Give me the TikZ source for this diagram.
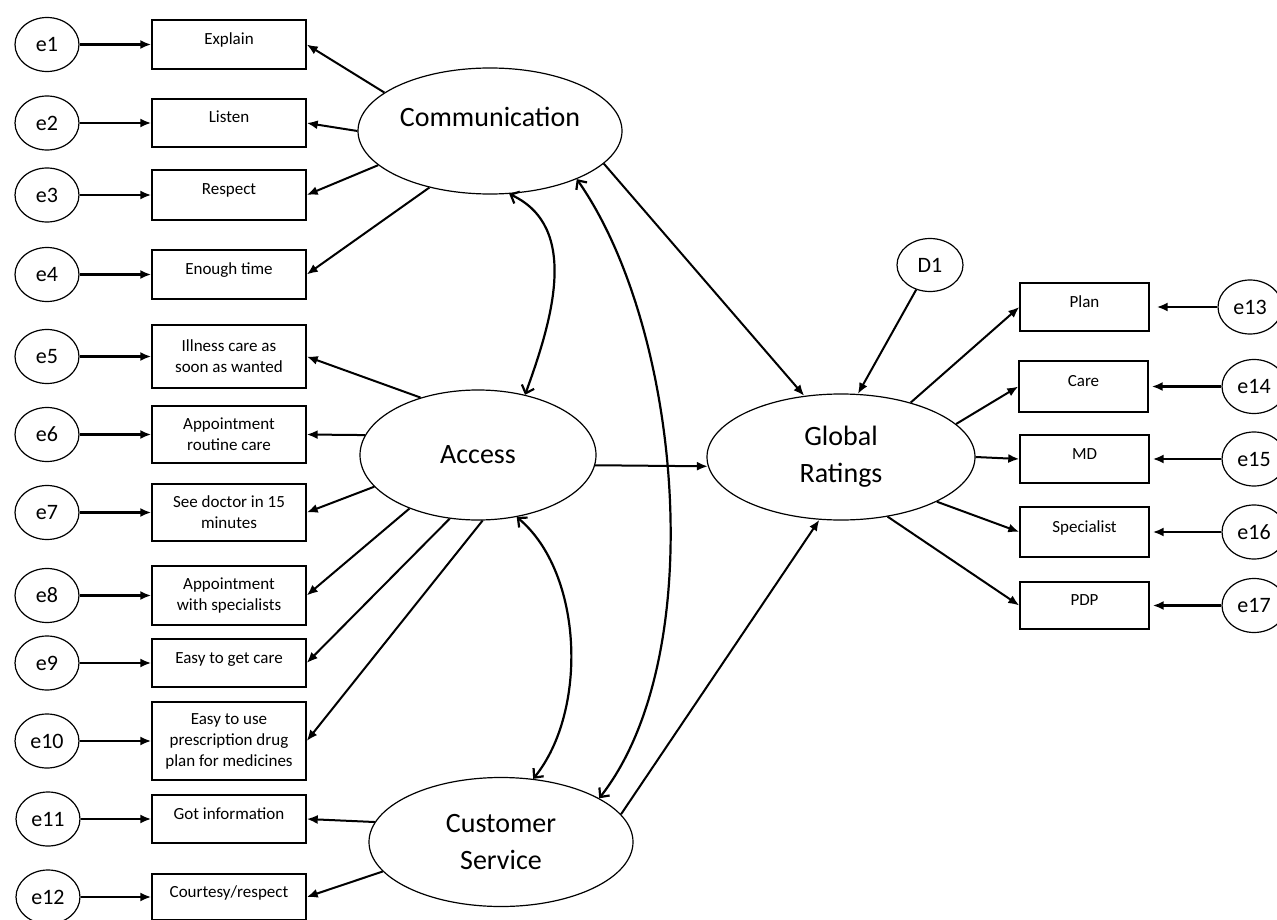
\documentclass[tikz,border=0pt]{standalone}
\usepackage{fontspec}
\setmainfont{Carlito}
\usetikzlibrary{shapes.geometric,arrows.meta}
\begin{document}
\begin{tikzpicture}[x=1pt,y=-1pt,
  lat/.style={draw,ellipse,inner sep=0pt,line width=1.2pt,align=center,font=\fontsize{28}{37}\selectfont},
  err/.style={draw,ellipse,inner sep=0pt,minimum width=64,minimum height=54,line width=1.2pt,font=\fontsize{22}{26}\selectfont},
  ind/.style={draw,rectangle,line width=1.4pt,minimum width=154,align=center,font=\fontsize{17}{21}\selectfont},
  rind/.style={ind,minimum width=129},
  oneline/.style={text height=12pt,text depth=12pt},
  loading/.style={line width=2pt,-{Latex[length=11pt,width=9pt]}},
  errarrow/.style={line width=2.4pt,-{Latex[length=11pt,width=9pt]}},
  corr/.style={line width=2.2pt,{Straight Barb[length=7pt,width=13pt]}-{Straight Barb[length=7pt,width=13pt]}}]
  \clip (0,0) rectangle (1277,920);

  \node[ind,oneline,minimum height=49] (explain) at (229,44.5) {Explain};
  \node[ind,oneline,minimum height=48] (listen) at (229,123) {Listen};
  \node[ind,oneline,minimum height=50] (respect) at (229,195) {Respect};
  \node[ind,oneline,minimum height=49] (time) at (229,274.5) {Enough time};
  \node[ind,minimum height=63] (illness) at (229,356.5) {Illness care as\\soon as wanted};
  \node[ind,minimum height=57] (routine) at (229,434.5) {Appointment\\routine care};
  \node[ind,minimum height=57] (doctor) at (229,512.5) {See doctor in 15\\minutes};
  \node[ind,minimum height=59] (special) at (229,595.5) {Appointment\\with specialists};
  \node[ind,oneline,minimum height=48] (easy) at (229,663) {Easy to get care};
  \node[ind,minimum height=78] (drug) at (229,741) {Easy to use\\prescription drug\\plan for medicines};
  \node[ind,oneline,minimum height=48] (info) at (229,819) {Got information};
  \node[ind,oneline,minimum height=46] (courtesy) at (229,897) {Courtesy/respect};

  \node[err] (e1) at (47,44.5) {e1};
  \node[err] (e2) at (47,123) {e2};
  \node[err] (e3) at (47,195) {e3};
  \node[err] (e4) at (47,274.5) {e4};
  \node[err] (e5) at (47,356.5) {e5};
  \node[err] (e6) at (47,434.5) {e6};
  \node[err] (e7) at (47,512.5) {e7};
  \node[err] (e8) at (47,595.5) {e8};
  \node[err] (e9) at (47,663) {e9};
  \node[err] (e10) at (47,741) {e10};
  \node[err] (e11) at (48,819) {e11};
  \node[err] (e12) at (48,897) {e12};

  \node[lat,minimum width=264,minimum height=126,text height=20pt,text depth=28pt] (comm) at (490,131) {Communication};
  \node[lat,minimum width=236,minimum height=130] (access) at (478,455) {Access};
  \node[lat,minimum width=264,minimum height=129] (cs) at (501,842) {Customer\\Service};
  \node[lat,minimum width=268,minimum height=126] (global) at (841,457) {Global\\Ratings};
  \node[err,minimum width=66,minimum height=53] (d1) at (930,265) {D1};

  \node[rind,oneline,minimum height=48] (plan) at (1084.5,307) {Plan};
  \node[rind,oneline,minimum height=51] (care) at (1083.5,386.5) {Care};
  \node[rind,oneline,minimum height=48] (md) at (1084.5,459) {MD};
  \node[rind,oneline,minimum height=50] (spec) at (1084.5,532) {Specialist};
  \node[rind,oneline,minimum height=47] (pdp) at (1084.5,605.5) {PDP};

  \node[err] (e13) at (1250,307) {e13};
  \node[err] (e14) at (1254,386.5) {e14};
  \node[err] (e15) at (1254,459) {e15};
  \node[err] (e16) at (1254,532) {e16};
  \node[err] (e17) at (1254,605.5) {e17};

  \draw[errarrow] (e1) -- (explain);
  \draw[errarrow] (e2) -- (listen);
  \draw[errarrow] (e3) -- (respect);
  \draw[errarrow] (e4) -- (time);
  \draw[errarrow] (e5) -- (illness);
  \draw[errarrow] (e6) -- (routine);
  \draw[errarrow] (e7) -- (doctor);
  \draw[errarrow] (e8) -- (special);
  \draw[errarrow] (e9) -- (easy);
  \draw[errarrow] (e10) -- (drug);
  \draw[errarrow] (e11) -- (info);
  \draw[errarrow] (e12) -- (courtesy);
  \draw[errarrow,shorten >=7pt] (e13) -- (plan);
  \draw[errarrow,shorten >=3pt] (e14) -- (care);
  \draw[errarrow,shorten >=3pt] (e15) -- (md);
  \draw[errarrow,shorten >=3pt] (e16) -- (spec);
  \draw[errarrow,shorten >=3pt] (e17) -- (pdp);

  \draw[loading] (comm.160) -- (explain.east);
  \draw[loading] (comm.180) -- (listen.east);
  \draw[loading] (comm.197) -- (respect.east);
  \draw[loading] (comm.223) -- (time.east);
  \draw[loading] (access.135) -- (illness.east);
  \draw[loading] (access.170) -- (routine.east);
  \draw[loading] (access.197) -- (doctor.east);
  \draw[loading] (access.218) -- (special.east);
  \draw[loading] (access.246) -- (easy.east);
  \draw[loading] (access.274) -- (drug.east);
  \draw[loading] (cs.171) -- (info.east);
  \draw[loading] (cs.194) -- (courtesy.east);

  \draw[loading] (comm.344) -- (global.121);
  \draw[loading] (access.355) -- (global.184);
  \draw[loading] (cs.13) -- (global.251);
  \draw[loading] (d1) -- (global.75);

  \draw[loading] (global.38) -- (plan.west);
  \draw[loading] (global.16) -- (care.west);
  \draw[loading] (global.0) -- (md.west);
  \draw[loading] (global.335) -- (spec.west);
  \draw[loading] (global.308) -- (pdp.west);

  \draw[corr] (comm.287) to[out=-25,in=70] (access.52);
  \draw[corr] (comm.331) to[out=-55,in=52,looseness=0.75] (cs.24);
  \draw[corr] (access.302) to[out=-40,in=51,looseness=0.85] (cs.63);
\end{tikzpicture}
\end{document}
